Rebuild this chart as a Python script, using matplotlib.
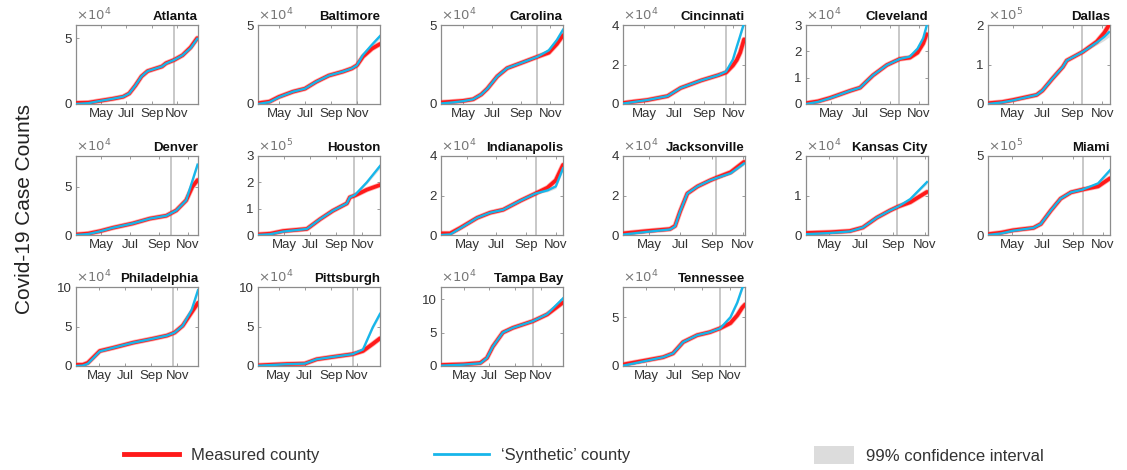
import matplotlib
matplotlib.use("Agg")
import matplotlib.pyplot as plt
from matplotlib.lines import Line2D
from matplotlib.patches import Patch

plt.rcParams["font.family"] = ["Liberation Sans", "DejaVu Sans"]

# day of year 2020; values in thousands of cases
MONTH_TICKS = [122, 183, 245, 306]
MONTH_LABELS = ["May", "Jul", "Sep", "Nov"]

CITIES = ["Atlanta", "Baltimore", "Carolina", "Cincinnati", "Cleveland", "Dallas",
          "Denver", "Houston", "Indianapolis", "Jacksonville", "Kansas City", "Miami",
          "Philadelphia", "Pittsburgh", "Tampa Bay", "Tennessee"]
X_START = [60, 73, 75, 78, 70, 71, 69, 61, 68, 71, 78, 73, 68, 73, 67, 71]
X_END = [358, 359, 333, 330, 325, 322, 327, 348, 321, 310, 312, 320, 355, 360, 359, 339]
INTERVENTION = [299, 305, 277, 291, 264, 264, 269, 286, 264, 254, 253, 265, 296, 296, 288, 285]
Y_MAX = [60, 50, 50, 40, 30, 200, 82, 300, 40, 40, 20, 500, 100, 100, 118, 81]
Y_EXP = [4, 4, 4, 4, 4, 5, 4, 5, 4, 4, 4, 5, 4, 4, 4, 4]
Y_TICKS = [[0, 5], [0, 5], [0, 5], [0, 2, 4], [0, 1, 2, 3], [0, 1, 2],
           [0, 5], [0, 1, 2, 3], [0, 2, 4], [0, 2, 4], [0, 1, 2], [0, 5],
           [0, 5, 10], [0, 5, 10], [0, 5, 10], [0, 5]]

ATLANTA_DAYS = [60, 90, 120, 150, 175, 190, 205, 220, 235, 255, 270, 280, 300, 320, 340, 356]
ATLANTA_MEAS = [0.8, 1.0, 2.5, 4.0, 5.5, 8.0, 14.0, 21.0, 25.0, 27.0, 28.5, 31.0, 33.5, 37.0, 43.0, 50.0]
ATLANTA_SYN = [0.0, 0.6, 2.4, 4.0, 5.5, 8.0, 14.0, 21.0, 25.0, 27.0, 28.5, 30.8, 33.5, 37.0, 42.5, 49.5]
ATLANTA_CI = [0.3, 0.3, 0.3, 0.3, 0.3, 0.3, 0.3, 0.3, 0.3, 0.3, 0.3, 0.3, 0.4, 0.8, 1.2, 1.5]

BALTIMORE_DAYS = [73, 100, 122, 155, 183, 209, 239, 272, 293, 305, 319, 340, 359]
BALTIMORE_MEAS = [0.5, 1.5, 4.5, 7.8, 9.7, 14.0, 18.0, 20.5, 22.5, 24.5, 30.0, 35.0, 38.0]
BALTIMORE_SYN = [0.0, 1.2, 4.3, 7.8, 9.7, 14.0, 18.0, 20.5, 22.5, 24.5, 31.0, 37.5, 43.0]
BALTIMORE_CI = [0.2, 0.2, 0.2, 0.2, 0.2, 0.2, 0.2, 0.2, 0.2, 0.3, 0.8, 1.2, 1.5]

CAROLINA_DAYS = [75, 100, 122, 143, 160, 173, 194, 215, 250, 279, 303, 320, 333]
CAROLINA_MEAS = [1.0, 1.5, 2.0, 3.0, 6.0, 9.7, 17.5, 22.7, 26.6, 29.9, 32.5, 38.0, 43.5]
CAROLINA_SYN = [0.3, 1.0, 1.8, 3.0, 6.0, 9.7, 17.5, 22.7, 26.6, 29.9, 34.0, 40.5, 47.0]
CAROLINA_CI = [0.2, 0.2, 0.2, 0.2, 0.2, 0.2, 0.2, 0.2, 0.2, 0.3, 0.8, 1.2, 1.5]

CINCINNATI_DAYS = [78, 100, 128, 170, 197, 239, 275, 291, 305, 313, 320, 328]
CINCINNATI_MEAS = [0.5, 1.2, 2.0, 4.0, 8.1, 11.9, 14.6, 16.0, 19.5, 22.3, 26.0, 32.7]
CINCINNATI_SYN = [0.2, 1.0, 2.0, 4.0, 8.1, 11.9, 14.6, 16.5, 22.5, 29.0, 34.5, 41.0]
CINCINNATI_CI = [0.2, 0.2, 0.2, 0.2, 0.2, 0.2, 0.2, 0.3, 0.6, 0.9, 1.2, 1.5]

CLEVELAND_DAYS = [70, 95, 120, 162, 183, 210, 239, 266, 287, 303, 315, 322]
CLEVELAND_MEAS = [0.3, 1.0, 2.3, 5.0, 6.2, 10.9, 14.8, 17.1, 17.6, 19.5, 23.0, 26.5]
CLEVELAND_SYN = [0.0, 0.8, 2.2, 5.0, 6.2, 10.9, 14.8, 17.1, 18.0, 21.0, 25.0, 29.6]
CLEVELAND_CI = [0.1, 0.1, 0.1, 0.1, 0.1, 0.1, 0.1, 0.2, 0.4, 0.6, 0.9, 1.1]

DALLAS_DAYS = [71, 100, 122, 171, 183, 204, 225, 233, 266, 295, 310, 320]
DALLAS_MEAS = [2, 5, 10, 23, 34, 65, 94, 110, 132, 158, 180, 200]
DALLAS_SYN = [0, 4, 9, 23, 34, 65, 94, 110, 132, 156, 170, 182]
DALLAS_CI = [1, 1, 1, 1, 1, 1, 1, 1, 2, 6, 9, 12]

DENVER_DAYS = [69, 95, 120, 147, 189, 225, 260, 281, 302, 315, 326]
DENVER_MEAS = [0.5, 1.5, 4.0, 7.5, 12.0, 17.0, 20.0, 25.5, 36.0, 50.0, 57.0]
DENVER_SYN = [0.0, 1.0, 3.8, 7.5, 12.0, 17.0, 20.0, 25.5, 36.0, 56.0, 73.0]
DENVER_CI = [0.3, 0.3, 0.3, 0.3, 0.3, 0.3, 0.3, 0.5, 1.2, 2.0, 2.6]

HOUSTON_DAYS = [61, 90, 120, 176, 207, 237, 270, 277, 289, 317, 348]
HOUSTON_MEAS = [2, 5, 15, 23, 60, 92, 120, 143, 150, 172, 190]
HOUSTON_SYN = [0, 3, 13, 23, 60, 92, 120, 143, 152, 200, 262]
HOUSTON_CI = [1, 1, 1, 1, 1, 1, 1, 1, 2, 6, 9]

INDIANAPOLIS_DAYS = [68, 87, 108, 143, 170, 197, 233, 264, 289, 306, 321]
INDIANAPOLIS_MEAS = [0.8, 0.8, 3.6, 8.7, 11.3, 12.8, 17.4, 21.0, 24.0, 27.7, 35.5]
INDIANAPOLIS_SYN = [0.0, 0.3, 3.4, 8.7, 11.3, 12.8, 17.4, 21.0, 22.6, 24.6, 33.8]
INDIANAPOLIS_CI = [0.2, 0.2, 0.2, 0.2, 0.2, 0.2, 0.2, 0.3, 0.7, 1.0, 1.3]

JACKSONVILLE_DAYS = [71, 118, 163, 173, 183, 197, 217, 242, 256, 282, 308]
JACKSONVILLE_MEAS = [0.8, 2.0, 3.0, 4.6, 12.0, 21.0, 24.6, 27.7, 29.2, 31.8, 37.0]
JACKSONVILLE_SYN = [0.2, 1.6, 2.8, 4.4, 12.0, 21.0, 24.6, 27.7, 29.0, 31.3, 36.2]
JACKSONVILLE_CI = [0.2, 0.2, 0.2, 0.2, 0.2, 0.2, 0.2, 0.2, 0.3, 0.6, 0.9]

KANSAS_DAYS = [78, 124, 162, 187, 214, 239, 255, 278, 310]
KANSAS_MEAS = [0.5, 0.7, 1.0, 1.9, 4.4, 6.2, 7.2, 8.3, 10.9]
KANSAS_SYN = [0.2, 0.5, 0.9, 1.9, 4.4, 6.2, 7.2, 9.1, 13.4]
KANSAS_CI = [0.05, 0.05, 0.05, 0.05, 0.05, 0.05, 0.1, 0.3, 0.5]

MIAMI_DAYS = [73, 100, 124, 165, 180, 200, 220, 241, 265, 296, 320]
MIAMI_MEAS = [5, 15, 30, 45, 70, 154, 230, 270, 288, 308, 359]
MIAMI_SYN = [0, 10, 27, 45, 70, 154, 230, 270, 288, 327, 410]
MIAMI_CI = [2, 2, 2, 2, 2, 2, 2, 2, 3, 8, 14]

PHILADELPHIA_DAYS = [68, 84, 96, 124, 155, 202, 249, 282, 300, 319, 340, 355]
PHILADELPHIA_MEAS = [1.5, 1.5, 4.0, 19.0, 23.0, 29.5, 34.6, 38.5, 42.3, 51.0, 68.0, 80.0]
PHILADELPHIA_SYN = [0.0, 0.5, 3.0, 18.5, 23.0, 29.5, 34.6, 38.5, 42.3, 51.0, 71.0, 96.0]
PHILADELPHIA_CI = [0.4, 0.4, 0.4, 0.4, 0.4, 0.4, 0.4, 0.4, 0.6, 1.5, 2.5, 3.5]

PITTSBURGH_DAYS = [73, 141, 183, 211, 249, 296, 320, 343, 360]
PITTSBURGH_MEAS = [0.8, 2.5, 3.0, 8.5, 11.5, 15.0, 19.0, 28.0, 35.0]
PITTSBURGH_SYN = [0.3, 2.3, 3.0, 8.5, 11.5, 15.0, 21.0, 49.0, 66.0]
PITTSBURGH_CI = [0.3, 0.3, 0.3, 0.3, 0.3, 0.4, 1.0, 2.0, 3.0]

TAMPA_DAYS = [67, 120, 161, 177, 191, 215, 239, 287, 321, 359]
TAMPA_MEAS = [1.5, 2.5, 4.5, 12.0, 29.0, 50.0, 57.0, 67.0, 77.0, 95.0]
TAMPA_SYN = [0.5, 2.0, 4.0, 12.0, 29.0, 50.0, 57.0, 67.0, 77.5, 101.0]
TAMPA_CI = [0.5, 0.5, 0.5, 0.5, 0.5, 0.5, 0.5, 0.6, 1.5, 2.5]

TENNESSEE_DAYS = [71, 124, 159, 181, 203, 234, 262, 285, 307, 322, 333, 339]
TENNESSEE_MEAS = [1.5, 6.0, 9.0, 13.0, 24.5, 31.6, 34.7, 38.8, 44.0, 52.0, 60.0, 63.0]
TENNESSEE_SYN = [0.3, 5.5, 9.0, 13.0, 24.5, 31.6, 34.7, 38.8, 50.0, 65.0, 80.0, 88.0]
TENNESSEE_CI = [0.4, 0.4, 0.4, 0.4, 0.4, 0.4, 0.4, 0.5, 1.2, 2.0, 2.5, 3.0]

SERIES = [
    (ATLANTA_DAYS, ATLANTA_MEAS, ATLANTA_SYN, ATLANTA_CI),
    (BALTIMORE_DAYS, BALTIMORE_MEAS, BALTIMORE_SYN, BALTIMORE_CI),
    (CAROLINA_DAYS, CAROLINA_MEAS, CAROLINA_SYN, CAROLINA_CI),
    (CINCINNATI_DAYS, CINCINNATI_MEAS, CINCINNATI_SYN, CINCINNATI_CI),
    (CLEVELAND_DAYS, CLEVELAND_MEAS, CLEVELAND_SYN, CLEVELAND_CI),
    (DALLAS_DAYS, DALLAS_MEAS, DALLAS_SYN, DALLAS_CI),
    (DENVER_DAYS, DENVER_MEAS, DENVER_SYN, DENVER_CI),
    (HOUSTON_DAYS, HOUSTON_MEAS, HOUSTON_SYN, HOUSTON_CI),
    (INDIANAPOLIS_DAYS, INDIANAPOLIS_MEAS, INDIANAPOLIS_SYN, INDIANAPOLIS_CI),
    (JACKSONVILLE_DAYS, JACKSONVILLE_MEAS, JACKSONVILLE_SYN, JACKSONVILLE_CI),
    (KANSAS_DAYS, KANSAS_MEAS, KANSAS_SYN, KANSAS_CI),
    (MIAMI_DAYS, MIAMI_MEAS, MIAMI_SYN, MIAMI_CI),
    (PHILADELPHIA_DAYS, PHILADELPHIA_MEAS, PHILADELPHIA_SYN, PHILADELPHIA_CI),
    (PITTSBURGH_DAYS, PITTSBURGH_MEAS, PITTSBURGH_SYN, PITTSBURGH_CI),
    (TAMPA_DAYS, TAMPA_MEAS, TAMPA_SYN, TAMPA_CI),
    (TENNESSEE_DAYS, TENNESSEE_MEAS, TENNESSEE_SYN, TENNESSEE_CI),
]

RED = "#ff1a1a"
CYAN = "#17b6ea"
BAND = "#dcdcdc"
FRAME = "#8c8c8c"
TXT = "#333333"

W, H = 1127, 470
COL_LEFT = [76, 258, 441, 623, 806, 988]
ROW_TOP = [25, 156, 287]
AX_W, AX_H = 122, 79

fig = plt.figure(figsize=(W / 100, H / 100), dpi=100)

for i, city in enumerate(CITIES):
    r, c = divmod(i, 6)
    left = COL_LEFT[c] / W
    bottom = 1 - (ROW_TOP[r] + AX_H) / H
    ax = fig.add_axes([left, bottom, AX_W / W, AX_H / H])
    days, meas, syn, ci = SERIES[i]
    lo = [s - e for s, e in zip(syn, ci)]
    hi = [s + e for s, e in zip(syn, ci)]
    ax.fill_between(days, lo, hi, color=BAND, lw=0, zorder=1)
    ax.axvline(INTERVENTION[i], color="#c4c4c4", lw=1.3, zorder=0)
    ax.plot(days, meas, color=RED, lw=3.8, alpha=0.35, solid_capstyle="round", zorder=2)
    ax.plot(days, meas, color=RED, lw=2.7, solid_capstyle="round", zorder=3)
    ax.plot(days, syn, color=CYAN, lw=1.7, zorder=4)

    ax.set_xlim(X_START[i], X_END[i])
    ax.set_ylim(0, Y_MAX[i])
    scale = 10 ** (Y_EXP[i] - 3)
    ax.set_yticks([t * scale for t in Y_TICKS[i]])
    ax.set_yticklabels([str(t) for t in Y_TICKS[i]])
    ax.set_xticks(MONTH_TICKS)
    ax.set_xticklabels(MONTH_LABELS)
    ax.tick_params(direction="in", length=2, width=0.6, colors=FRAME,
                   labelcolor=TXT, labelsize=9.5, pad=3, top=True, right=True)
    for sp in ax.spines.values():
        sp.set_color(FRAME)
        sp.set_linewidth(0.9)

    ax.text(1.0, 1.02, city, transform=ax.transAxes, ha="right", va="bottom",
            fontsize=9.5, fontweight="bold", color="#111111")
    ax.text(0.0, 1.02, r"$\times 10^{%d}$" % Y_EXP[i], transform=ax.transAxes,
            ha="left", va="bottom", fontsize=9.5, color="#777777")

fig.text(0.022, 0.555, "Covid-19 Case Counts", rotation=90, ha="center", va="center",
         fontsize=15, color="#222222")

legend_items = [
    (Line2D([0], [0], color=RED, lw=3.5), "Measured county", 124, 3.3, 0.8),
    (Line2D([0], [0], color=CYAN, lw=2.0), "\u2018Synthetic\u2019 county", 434, 3.3, 0.8),
    (Patch(facecolor=BAND, edgecolor="none"), "99% confidence interval", 814, 2.4, 1.2),
]
for handle, label, xpx, hlen, hh in legend_items:
    fig.legend([handle], [label], loc="center left", bbox_to_anchor=(xpx / W, 1 - 455 / H),
               frameon=False, fontsize=12, handlelength=hlen, handleheight=hh,
               handletextpad=0.7, labelcolor="#333333", borderaxespad=0, borderpad=0)

fig.savefig("out.png", dpi=100)
